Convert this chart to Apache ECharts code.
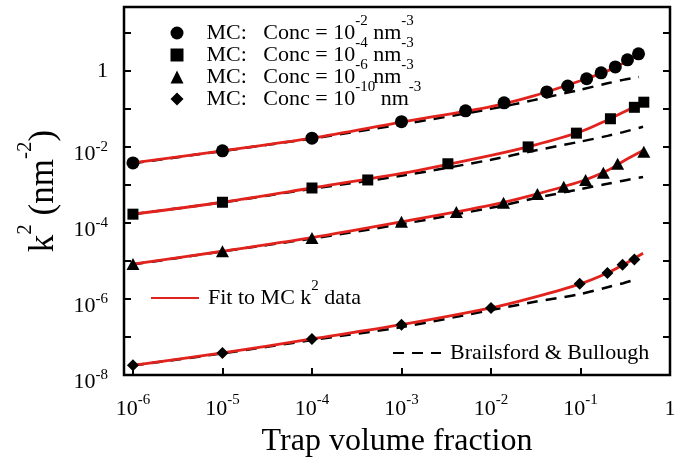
<!DOCTYPE html>
<html>
<head>
<meta charset="utf-8">
<script src="https://cdn.jsdelivr.net/npm/echarts@6/dist/echarts.min.js"></script>
<style>
  html, body { margin: 0; padding: 0; background: #fff; }
  #chart { width: 691px; height: 464px; }
</style>
</head>
<body>
<div id="chart"></div>
<script>
"use strict";

//
// Data
//
// MC points, Conc = 1e-2 nm^-3
const mc2_x = [1e-6, 1e-5, 1e-4, 1e-3, 5.2e-3, 1.4e-2, 4.2e-2, 7.2e-2, 0.117, 0.17, 0.245, 0.335, 0.445];
const mc2_y = [3.8e-3, 7.9e-3, 1.7e-2, 4.6e-2, 8.9e-2, 0.144, 0.28, 0.40, 0.62, 0.89, 1.27, 1.95, 2.8];
// Conc = 1e-4
const mc4_x = [1e-6, 1e-5, 1e-4, 4.2e-4, 3.3e-3, 0.026, 0.09, 0.216, 0.40, 0.51];
const mc4_y = [1.7e-4, 3.5e-4, 8.3e-4, 1.35e-3, 3.6e-3, 1.0e-2, 0.023, 0.055, 0.11, 0.15];
// Conc = 1e-6
const mc6_x = [1e-6, 1e-5, 1e-4, 1e-3, 4.1e-3, 0.0138, 0.033, 0.065, 0.114, 0.18, 0.26, 0.51];
const mc6_y = [8.3e-6, 1.8e-5, 4.0e-5, 1.07e-4, 1.95e-4, 3.4e-4, 5.8e-4, 8.9e-4, 1.35e-3, 2.1e-3, 3.6e-3, 7.4e-3];
// Conc = 1e-10
const mc10_x = [1e-6, 1e-5, 1e-4, 1e-3, 1e-2, 0.098, 0.2, 0.295, 0.40];
const mc10_y = [1.8e-8, 3.8e-8, 8.9e-8, 2.1e-7, 5.8e-7, 2.5e-6, 4.8e-6, 7.9e-6, 1.1e-5];

// red fit curves
const fit_x = [1e-6, 1e-5, 1e-4, 1e-3, 1e-2, 0.03, 0.1, 0.2, 0.3, 0.5];
const fit2_y = [3.8e-3, 7.9e-3, 1.7e-2, 4.5e-2, 0.115, 0.22, 0.55, 1.0, 1.6, 3.2];
const fit4_y = [1.7e-4, 3.5e-4, 8.3e-4, 2.0e-3, 6.0e-3, 1.1e-2, 0.025, 0.051, 0.081, 0.15];
const fit6_y = [8.3e-6, 1.8e-5, 4.1e-5, 1.07e-4, 2.95e-4, 5.5e-4, 1.23e-3, 2.4e-3, 4.2e-3, 8.0e-3];
const fit10_y = [1.8e-8, 3.8e-8, 8.9e-8, 2.1e-7, 5.8e-7, 1.1e-6, 2.5e-6, 4.8e-6, 7.9e-6, 1.6e-5];

// Brailsford & Bullough (dashed)
const bb2_x = [1e-6, 1e-5, 1e-4, 1e-3, 1e-2, 0.03, 0.1, 0.2, 0.3, 0.45];
const bb2_y = [3.7e-3, 7.8e-3, 1.66e-2, 3.9e-2, 0.1, 0.17, 0.32, 0.47, 0.58, 0.69];
const bb4_x = [1e-6, 1e-5, 1e-4, 1e-3, 1e-2, 0.03, 0.1, 0.2, 0.3, 0.5];
const bb4_y = [1.7e-4, 3.47e-4, 7.9e-4, 1.74e-3, 4.6e-3, 7.9e-3, 1.38e-2, 1.95e-2, 2.45e-2, 3.4e-2];
const bb6_x = [1e-6, 1e-5, 1e-4, 1e-3, 1e-2, 0.03, 0.1, 0.2, 0.3, 0.5];
const bb6_y = [8.1e-6, 1.78e-5, 3.9e-5, 9.3e-5, 2.5e-4, 4.4e-4, 7.8e-4, 1.07e-3, 1.29e-3, 1.62e-3];
const bb10_x = [1e-6, 1e-5, 1e-4, 1e-3, 1e-2, 0.03, 0.1, 0.2, 0.3, 0.4];
const bb10_y = [1.78e-8, 3.7e-8, 8.3e-8, 1.82e-7, 5.1e-7, 8.3e-7, 1.35e-6, 2.04e-6, 2.6e-6, 3.2e-6];

const conc_exp = { c2: "-2", c4: "-4", c6: "-6", c10: "-10" };

//
// Style
//
const FONT = "Liberation Serif";
const RED = "#e2231d";

function txt(size, line_height, valign, extra) {
  return Object.assign(
    { fontFamily: FONT, fontSize: size, lineHeight: line_height, verticalAlign: valign, color: "#000" },
    extra || {}
  );
}

const rich_xtick = {
  b: txt(22, 33, "middle"),
  s: txt(15, 12, "top"),
};
const rich_ytick = {
  b: txt(22, 37, "bottom"),
  s: txt(15, 12, "middle"),
  c: txt(22, 24, "middle"),
};
const rich_legend = {
  t: txt(22, 38, "middle"),
  p: txt(22, 38, "middle", { padding: [0, 0, 0, 18] }),
  q: txt(22, 38, "middle", { padding: [0, 0, 0, 4] }),
  s: txt(15, 13, "top"),
};

function pairs(xs, ys) {
  return xs.map((x, i) => [x, ys[i]]);
}

// "10^e" labels, only on exact decades
function decade_label(v, only_even, one_style) {
  const lg = Math.log10(v);
  const e = Math.round(lg);
  if (Math.abs(lg - e) > 1e-6) return "";
  if (only_even && e % 2 !== 0) return "";
  if (e === 0) return "{" + one_style + "|1}";
  return "{b|10}{s|" + e + "}";
}

//
// Chart
//
const chart = echarts.init(document.getElementById("chart"));

function mc_series(name, symbol, size, xs, ys) {
  return {
    type: "scatter", name: name, symbol: symbol, symbolSize: size,
    data: pairs(xs, ys), itemStyle: { color: "#000", opacity: 1 }, z: 5, silent: true,
  };
}
function fit_series(ys) {
  return {
    type: "line", name: "fit", data: pairs(fit_x, ys), symbol: "none", smooth: 0.3,
    lineStyle: { color: RED, width: 2.8 }, itemStyle: { color: RED }, z: 4, silent: true,
  };
}
function bb_series(xs, ys) {
  return {
    type: "line", name: "bb", data: pairs(xs, ys), symbol: "none", smooth: 0.3,
    lineStyle: { color: "#000", width: 2.5, type: [11, 8] }, itemStyle: { color: "#000" }, z: 3, silent: true,
  };
}

const tick_style = { show: true, inside: true, length: 7, lineStyle: { color: "#000", width: 2 } };
const y_max = Math.pow(10, 1.68);

chart.setOption({
  animation: false,
  backgroundColor: "#fff",
  grid: {
    left: 124, right: 21, top: 7, bottom: 89,
    show: true, borderColor: "#000", borderWidth: 2.5,
  },
  xAxis: {
    type: "log", logBase: 10, min: Math.pow(10, -6.1), max: 1, splitNumber: 6,
    axisLine: { show: false }, splitLine: { show: false },
    axisTick: tick_style,
    axisLabel: {
      margin: 18, formatter: (v) => decade_label(v, false, "b"), rich: rich_xtick,
      showMinLabel: true, showMaxLabel: true,
    },
    name: "Trap volume fraction", nameLocation: "middle", nameGap: 46,
    nameTextStyle: { fontFamily: FONT, fontSize: 32, lineHeight: 32, color: "#000" },
  },
  yAxis: [
    {
      type: "log", logBase: 10, min: 1e-8, max: y_max, splitNumber: 10,
      axisLine: { show: false }, splitLine: { show: false },
      axisTick: tick_style,
      axisLabel: {
        margin: 16, formatter: (v) => decade_label(v, true, "c"), rich: rich_ytick,
      },
      name: "{b|k}{s|2}{b| (nm}{s|-2}{b|)}", nameLocation: "middle", nameRotate: 90, nameGap: 52,
      nameTextStyle: {
        rich: {
          b: txt(35, 57, "middle"),
          s: txt(21, 18, "top"),
        },
      },
    },
    {
      type: "log", logBase: 10, min: 1e-8, max: y_max, splitNumber: 10, position: "right",
      axisLine: { show: false }, splitLine: { show: false },
      axisTick: tick_style, axisLabel: { show: false },
    },
  ],
  legend: [
    {
      data: ["c2", "c4", "c6", "c10"], orient: "vertical", left: 170.5, top: 14,
      itemWidth: 13, itemHeight: 13, itemGap: -8, padding: 0, selectedMode: false,
      formatter: (name) => "{p|MC:   Conc = 10}{s|" + conc_exp[name] + "}{t| nm}{s|-3}",
      textStyle: { rich: rich_legend },
    },
    {
      data: ["fit"], left: 150, top: 279, itemWidth: 48, itemHeight: 14, padding: 0, selectedMode: false,
      itemStyle: { opacity: 0 },
      formatter: () => "{q|Fit to MC k}{s|2}{t| data}",
      textStyle: { rich: rich_legend },
    },
    {
      data: ["bb"], left: 392, top: 342, itemWidth: 48, itemHeight: 14, padding: 0, selectedMode: false,
      itemStyle: { opacity: 0 },
      formatter: () => "{q|Brailsford & Bullough}",
      textStyle: { rich: rich_legend },
    },
  ],
  series: [
    bb_series(bb2_x, bb2_y),
    bb_series(bb4_x, bb4_y),
    bb_series(bb6_x, bb6_y),
    bb_series(bb10_x, bb10_y),
    fit_series(fit2_y),
    fit_series(fit4_y),
    fit_series(fit6_y),
    fit_series(fit10_y),
    mc_series("c2", "circle", 13, mc2_x, mc2_y),
    mc_series("c4", "rect", 11, mc4_x, mc4_y),
    mc_series("c6", "triangle", [13, 12], mc6_x, mc6_y),
    mc_series("c10", "diamond", 12, mc10_x, mc10_y),
  ],
});
</script>
</body>
</html>
